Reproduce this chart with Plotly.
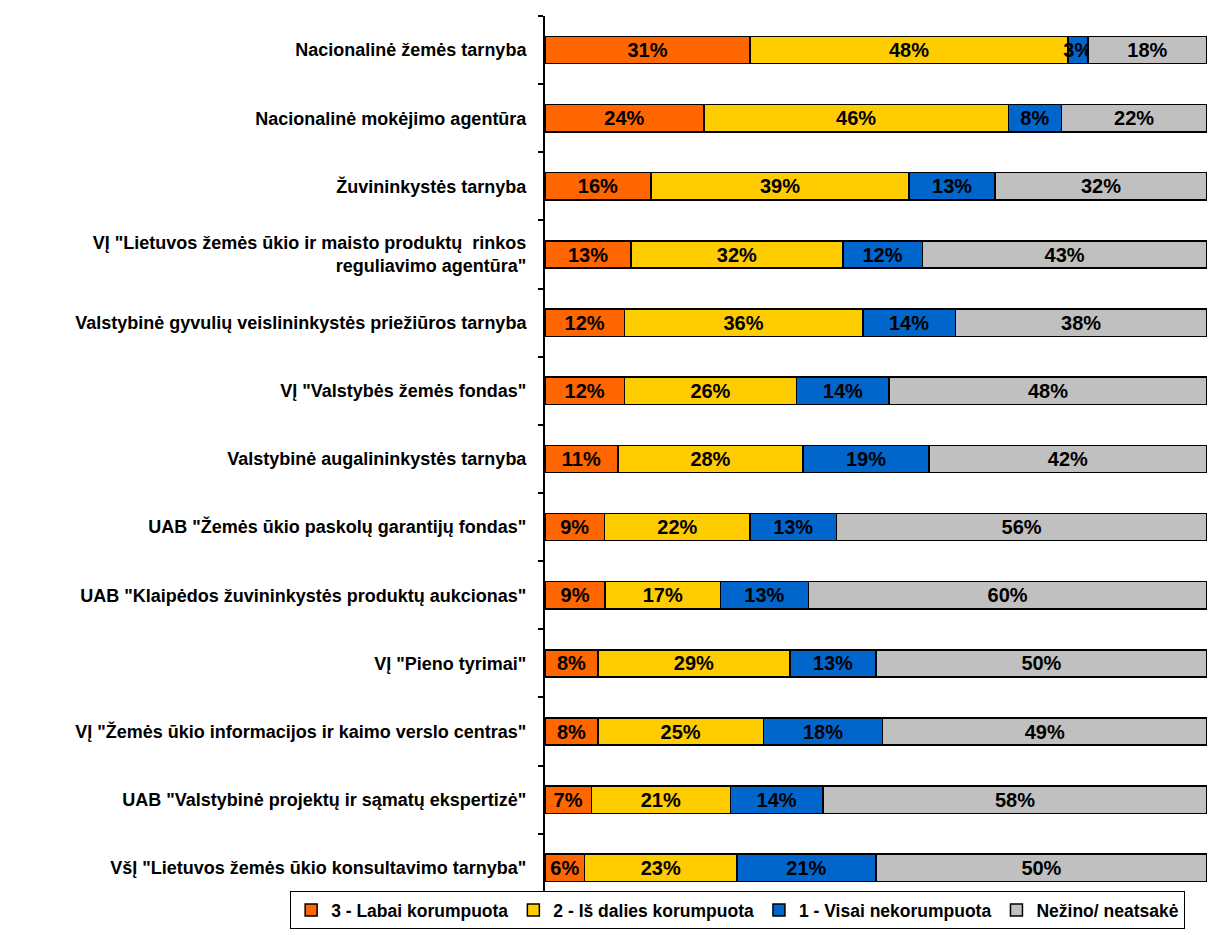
import plotly.graph_objects as go

categories = [
    'Nacionalinė žemės tarnyba',
    'Nacionalinė mokėjimo agentūra',
    'Žuvininkystės tarnyba',
    'VĮ "Lietuvos žemės ūkio ir maisto produktų  rinkos<br>reguliavimo agentūra"',
    'Valstybinė gyvulių veislininkystės priežiūros tarnyba',
    'VĮ "Valstybės žemės fondas"',
    'Valstybinė augalininkystės tarnyba',
    'UAB "Žemės ūkio paskolų garantijų fondas"',
    'UAB "Klaipėdos žuvininkystės produktų aukcionas"',
    'VĮ "Pieno tyrimai"',
    'VĮ "Žemės ūkio informacijos ir kaimo verslo centras"',
    'UAB "Valstybinė projektų ir sąmatų ekspertizė"',
    'VšĮ "Lietuvos žemės ūkio konsultavimo tarnyba"',
]

series_names = ['3 - Labai korumpuota', '2 - Iš dalies korumpuota',
                '1 - Visai nekorumpuota', 'Nežino/ neatsakė']

labai = [31, 24, 16, 13, 12, 12, 11, 9, 9.1, 8, 8, 7, 6]
is_dalies = [48, 46, 39, 32, 36, 26, 28, 22, 17.4, 29, 25, 21, 23]
visai = [3, 8, 13, 12, 14, 14, 19, 13, 13.3, 13, 18, 14, 21]
nezino = [18, 22, 32, 43, 38, 48, 42, 56, 60.2, 50, 49, 58, 50]

colors = ['#FF6600', '#FFCC00', '#0066CC', '#C0C0C0']

fig = go.Figure()
for name, vals, col in zip(series_names, [labai, is_dalies, visai, nezino], colors):
    fig.add_trace(go.Bar(
        y=categories, x=vals, name=name, orientation='h',
        marker=dict(color=col, line=dict(color='black', width=1.5)),
        texttemplate='%{x:.0f}%', textposition='inside',
        insidetextanchor='middle', textangle=0,
        textfont=dict(family='Liberation Sans, Arial', size=20, color='black', weight='bold'),
        cliponaxis=False,
    ))

fig.update_layout(
    barmode='stack', bargap=0.6,
    width=1208, height=935,
    margin=dict(l=545, r=1, t=16, b=44, autoexpand=False),
    plot_bgcolor='white', paper_bgcolor='white',
    font=dict(family='Liberation Sans, Arial', color='black'),
    uniformtext=dict(minsize=20, mode='show'),
    showlegend=True,
    legend=dict(
        orientation='h', x=-0.385, xanchor='left', y=0, yanchor='top',
        bgcolor='white', bordercolor='black', borderwidth=1,
        font=dict(size=17.5, weight='bold', color='black'),
        traceorder='normal', itemwidth=30,
    ),
    xaxis=dict(range=[0, 100], visible=False, showgrid=False, zeroline=False),
    yaxis=dict(
        range=[12.34, -0.5], showline=True, linecolor='black', linewidth=2,
        ticks='outside', tickson='boundaries', ticklen=5, tickcolor='black',
        tickwidth=1.5, ticklabelstandoff=13,
        tickfont=dict(size=18, weight='bold', color='black'),
        showgrid=False,
    ),
)

fig.write_html('out.html', config={'displayModeBar': False},
               post_script="document.body.style.margin='0';document.body.style.overflow='hidden';")
